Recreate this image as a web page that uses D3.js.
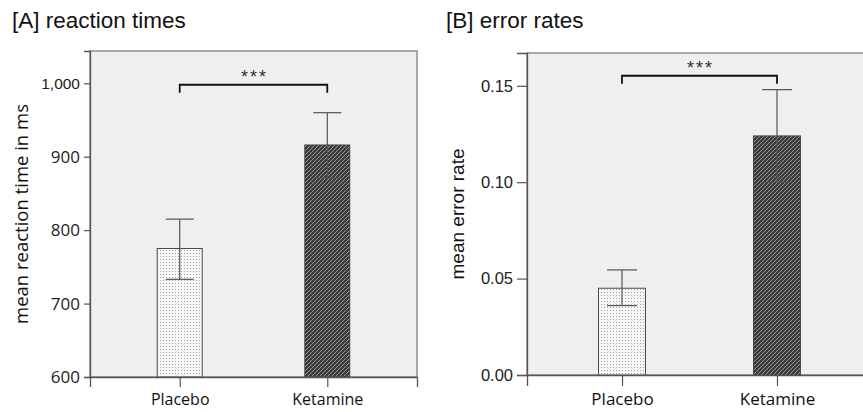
<!DOCTYPE html>
<html>
<head>
<meta charset="utf-8">
<script src="https://cdn.jsdelivr.net/npm/d3@7"></script>
<style>
  html, body { margin: 0; padding: 0; background: #fff; }
  svg { display: block; }
</style>
</head>
<body>
<svg id="chart" width="863" height="412"></svg>
<script>
// Conditions shown on both panels
const conditions = ["Placebo", "Ketamine"];

// Panel A: reaction times (ms)
const rtMeans = [775, 916];
const rtLower = [733, 871];
const rtUpper = [815, 960];
const rtTicks = [600, 700, 800, 900, 1000];
const rtBracket = 998;
const rtBracketDrop = 11;

// Panel B: error rates
const errMeans = [0.045, 0.124];
const errLower = [0.036, 0.100];
const errUpper = [0.0545, 0.148];
const errTicks = [0.00, 0.05, 0.10, 0.15];
const errBracket = 0.1552;
const errBracketDrop = 0.0042;

const svg = d3.select("#chart");
const defs = svg.append("defs");

// Dotted fill for placebo bars
const dots = defs.append("pattern")
  .attr("id", "dots").attr("patternUnits", "userSpaceOnUse")
  .attr("width", 3).attr("height", 3);
dots.append("rect").attr("width", 3).attr("height", 3).attr("fill", "#f7f7f7");
dots.append("rect").attr("x", 1).attr("y", 1).attr("width", 1).attr("height", 1).attr("fill", "#a0a0a0");

// Diagonal hatching for ketamine bars
const hatch = defs.append("pattern")
  .attr("id", "hatch").attr("patternUnits", "userSpaceOnUse")
  .attr("width", 4).attr("height", 4);
hatch.append("rect").attr("width", 4).attr("height", 4).attr("fill", "#3a3a3a");
hatch.append("path").attr("d", "M-1,1 l2,-2 M0,4 l4,-4 M3,5 l2,-2")
  .attr("stroke", "#9a9a9a").attr("stroke-width", 1);

const fills = ["url(#dots)", "url(#hatch)"];

function drawPanel(cfg) {
  const g = svg.append("g");
  const { left, right, top, bottom } = cfg.box;

  const x = d3.scalePoint().domain(conditions).range([left, right]).padding(cfg.xPad);
  const y = d3.scaleLinear().domain(cfg.domain).range([bottom, top]);

  // Panel title
  svg.append("text")
    .attr("x", cfg.titleX).attr("y", 28)
    .attr("font-family", "Liberation Sans, Arial, sans-serif")
    .attr("font-size", 22.5).attr("fill", "#111")
    .text(cfg.title);

  // Plot background with frame
  g.append("rect")
    .attr("x", left).attr("y", top)
    .attr("width", right - left).attr("height", bottom - top)
    .attr("fill", "#efefef").attr("stroke", "#7d7d7d").attr("stroke-width", 1.3);

  // Bars
  const bw = cfg.barWidth;
  g.selectAll(".bar").data(conditions).join("rect")
    .attr("x", d => x(d) - bw / 2)
    .attr("y", (d, i) => y(cfg.means[i]))
    .attr("width", bw)
    .attr("height", (d, i) => y(cfg.domain[0]) - y(cfg.means[i]))
    .attr("fill", (d, i) => fills[i])
    .attr("stroke", "#4a4a4a").attr("stroke-width", 1);

  // Error bars
  const cw = cfg.capWidth;
  conditions.forEach((c, i) => {
    const cx = x(c);
    const eb = g.append("g").attr("stroke", "#555").attr("stroke-width", 1.2).attr("fill", "none");
    eb.append("line").attr("x1", cx).attr("x2", cx)
      .attr("y1", y(cfg.lower[i])).attr("y2", y(cfg.upper[i]));
    eb.append("line").attr("x1", cx - cw / 2).attr("x2", cx + cw / 2)
      .attr("y1", y(cfg.upper[i])).attr("y2", y(cfg.upper[i]));
    eb.append("line").attr("x1", cx - cw / 2).attr("x2", cx + cw / 2)
      .attr("y1", y(cfg.lower[i])).attr("y2", y(cfg.lower[i]));
  });

  // Y axis
  const yAxis = d3.axisLeft(y).tickValues(cfg.ticks).tickSize(cfg.yTickSize)
    .tickPadding(4).tickFormat(cfg.tickFormat);
  const ya = g.append("g").attr("transform", `translate(${left},0)`).call(yAxis);
  ya.select(".domain").attr("stroke", "#555").attr("stroke-width", 1.3);
  ya.selectAll(".tick line").attr("stroke", "#555").attr("stroke-width", 1.2);
  ya.selectAll(".tick text")
    .attr("fill", "#222")
    .attr("font-size", d => cfg.tickFontSize(d))
    .attr("font-family", d => cfg.tickFont(d));

  // X axis
  const xAxis = d3.axisBottom(x).tickSize(cfg.xTickSize).tickPadding(7);
  const xa = g.append("g").attr("transform", `translate(0,${bottom})`).call(xAxis);
  xa.select(".domain").attr("stroke", "#555").attr("stroke-width", 1.3);
  xa.selectAll(".tick line").attr("stroke", "#555").attr("stroke-width", 1.2);
  xa.selectAll(".tick text")
    .attr("fill", "#111")
    .attr("font-size", cfg.catFontSize)
    .attr("font-family", "Open Sans, Noto Sans, sans-serif");

  // Y axis title
  g.append("text")
    .attr("transform", `translate(${cfg.yLabelX},${(top + bottom) / 2}) rotate(-90)`)
    .attr("text-anchor", "middle")
    .attr("font-family", cfg.yLabelFont)
    .attr("font-size", cfg.yLabelSize).attr("fill", "#111")
    .text(cfg.yLabel);

  // Significance bracket
  const bx1 = x(conditions[0]), bx2 = x(conditions[1]);
  const by = y(cfg.bracket), byEnd = y(cfg.bracket - cfg.bracketDrop);
  g.append("path")
    .attr("d", `M${bx1},${byEnd} V${by} H${bx2} V${byEnd}`)
    .attr("fill", "none").attr("stroke", "#111").attr("stroke-width", 1.8);
  g.append("text")
    .attr("x", (bx1 + bx2) / 2 + 1).attr("y", by - 2)
    .attr("text-anchor", "middle")
    .attr("font-family", "Liberation Sans, Arial, sans-serif")
    .attr("font-size", 18).attr("letter-spacing", 2).attr("fill", "#333")
    .text("***");
}

drawPanel({
  title: "[A] reaction times", titleX: 12,
  box: { left: 90, right: 417, top: 51, bottom: 377 },
  xPad: 0.608, domain: [600, 1044],
  means: rtMeans, lower: rtLower, upper: rtUpper,
  ticks: rtTicks, tickFormat: d3.format(","),
  tickFont: d => d >= 1000 ? "Liberation Sans, Arial, sans-serif" : "Open Sans, Noto Sans, sans-serif",
  tickFontSize: d => d >= 1000 ? 15.5 : 17, yTickSize: 6, xTickSize: 10,
  barWidth: 45, capWidth: 28, catFontSize: 16,
  yLabel: "mean reaction time in ms", yLabelX: 28,
  yLabelFont: "Open Sans, Noto Sans, sans-serif", yLabelSize: 18.5,
  bracket: rtBracket, bracketDrop: rtBracketDrop
});

drawPanel({
  title: "[B] error rates", titleX: 446,
  box: { left: 527, right: 872, top: 53, bottom: 375 },
  xPad: 0.613, domain: [0, 0.167],
  means: errMeans, lower: errLower, upper: errUpper,
  ticks: errTicks, tickFormat: d3.format(".2f"),
  tickFont: () => "Liberation Sans, Arial, sans-serif",
  tickFontSize: () => 16.5, yTickSize: 10, xTickSize: 11,
  barWidth: 47, capWidth: 30, catFontSize: 17,
  yLabel: "mean error rate", yLabelX: 464,
  yLabelFont: "Liberation Sans, Arial, sans-serif", yLabelSize: 19,
  bracket: errBracket, bracketDrop: errBracketDrop
});
</script>
</body>
</html>
